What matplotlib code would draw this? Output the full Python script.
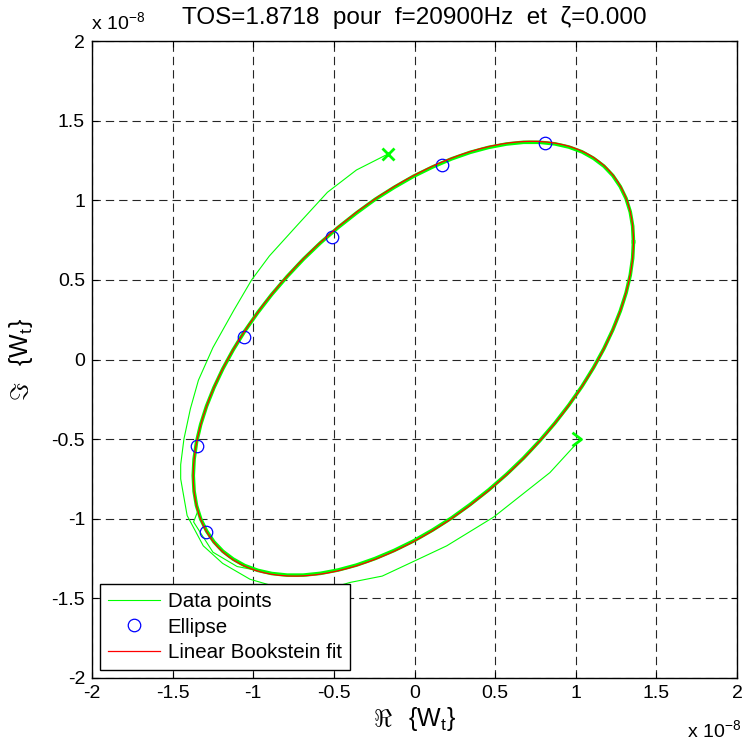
import numpy as np
import matplotlib
matplotlib.use("Agg")
import matplotlib.pyplot as plt
from matplotlib.patches import Ellipse
from matplotlib.lines import Line2D
from matplotlib.path import Path

plt.rcParams['font.family'] = ['Liberation Sans', 'DejaVu Sans']
plt.rcParams['font.size'] = 14
plt.rcParams['axes.unicode_minus'] = False
plt.rcParams['mathtext.fontset'] = 'custom'
plt.rcParams['mathtext.rm'] = 'Liberation Sans'
plt.rcParams['mathtext.it'] = 'Liberation Sans'
plt.rcParams['mathtext.bf'] = 'Liberation Sans:bold'
plt.rcParams['lines.scale_dashes'] = False

# Values in units of 1e-8
SCALE_EXP = -8

# Outer spiral of the measured response (start -> end)
spiral_re = [-0.165, -0.36, -0.54, -0.73, -0.90, -1.01, -1.12, -1.25, -1.34, -1.39,
             -1.43, -1.45, -1.45, -1.41, -1.31, -1.19, -1.02, -0.85, -0.65, -0.50,
             -0.40, -0.20, -0.01, 0.20, 0.49, 0.84, 1.03]
spiral_im = [1.29, 1.19, 1.05, 0.84, 0.65, 0.50, 0.31, 0.075, -0.13, -0.31,
             -0.50, -0.66, -0.75, -0.98, -1.17, -1.28, -1.38, -1.43, -1.45, -1.43,
             -1.40, -1.36, -1.27, -1.17, -0.99, -0.71, -0.50]

# Small detour of one pass at the lower left
branch_re = [-1.343, -1.37, -1.25, -1.10, -0.92]
branch_im = [-0.95, -1.02, -1.21, -1.30, -1.335]

# Repeated passes around the resonance loop
loop_re = [1.358, 1.353, 1.338, 1.312, 1.276, 1.230, 1.175, 1.111, 1.039, 0.958,
           0.871, 0.776, 0.676, 0.570, 0.460, 0.346, 0.230, 0.112, -0.007, -0.126,
           -0.245, -0.360, -0.474, -0.584, -0.690, -0.790, -0.885, -0.972, -1.053, -1.125,
           -1.189, -1.244, -1.290, -1.326, -1.352, -1.367, -1.372, -1.367, -1.352, -1.326,
           -1.290, -1.244, -1.189, -1.125, -1.053, -0.972, -0.885, -0.790, -0.690, -0.584,
           -0.474, -0.360, -0.245, -0.126, -0.007, 0.112, 0.230, 0.346, 0.460, 0.570,
           0.676, 0.776, 0.871, 0.958, 1.039, 1.111, 1.175, 1.230, 1.276, 1.312,
           1.338, 1.353, 1.358]
loop_im = [0.739, 0.837, 0.927, 1.011, 1.086, 1.155, 1.214, 1.263, 1.304, 1.334,
           1.354, 1.364, 1.364, 1.353, 1.332, 1.301, 1.260, 1.209, 1.150, 1.081,
           1.005, 0.920, 0.829, 0.732, 0.629, 0.521, 0.409, 0.295, 0.178, 0.060,
           -0.059, -0.177, -0.294, -0.408, -0.520, -0.627, -0.729, -0.827, -0.917, -1.001,
           -1.076, -1.145, -1.204, -1.253, -1.294, -1.324, -1.344, -1.354, -1.354, -1.343,
           -1.322, -1.291, -1.250, -1.199, -1.140, -1.071, -0.995, -0.910, -0.819, -0.722,
           -0.619, -0.511, -0.399, -0.285, -0.168, -0.050, 0.069, 0.187, 0.304, 0.418,
           0.530, 0.637, 0.739]

# Points used for the ellipse fit
pts_re = [0.81, 0.17, -0.51, -1.06, -1.351, -1.295]
pts_im = [1.36, 1.22, 0.77, 0.14, -0.544, -1.084]

# Linear Bookstein fit: centre, semi-axes, orientation (deg)
fit_center = (-0.007, 0.005)
fit_semi_axes = (1.694, 0.926)
fit_angle = 45.0

ticks = [-2, -1.5, -1, -0.5, 0, 0.5, 1, 1.5, 2]
tick_labels = ['-2', '-1.5', '-1', '-0.5', '0', '0.5', '1', '1.5', '2']
title = 'TOS=1.8718  pour  f=20900Hz  et  \u03b6=0.000'

W, H = 744, 747
fig = plt.figure(figsize=(W / 100, H / 100), dpi=100)
ax = fig.add_axes([92 / W, (H - 678) / H, (737 - 92) / W, (678 - 41) / H])

green = '#00ff00'
data_re = spiral_re + [np.nan] + branch_re
data_im = spiral_im + [np.nan] + branch_im
h_data, = ax.plot(data_re, data_im, color=green, lw=0.8, label='Data points', zorder=3)
ax.plot(loop_re, loop_im, color=green, lw=2.6, zorder=3, solid_joinstyle='round')

# start / end markers
ax.plot(spiral_re[0], spiral_im[0], marker='x', color=green, ms=9, mew=2.0, zorder=4)
chevron = Path([(-1, 0.75), (0, 0), (-1, -0.75)],
               [Path.MOVETO, Path.LINETO, Path.LINETO])
ax.plot(spiral_re[-1], spiral_im[-1], marker=chevron, color=green, ms=13,
        mfc='none', mew=2.0, zorder=4)

h_pts, = ax.plot(pts_re, pts_im, 'o', ls='none', mfc='none', mec='#0000ff',
                 ms=9, mew=0.9, label='Ellipse', zorder=5)

fit = Ellipse(fit_center, 2 * fit_semi_axes[0], 2 * fit_semi_axes[1], angle=fit_angle,
              fill=False, edgecolor='#ff0000', lw=0.9, zorder=6)
ax.add_patch(fit)
h_fit = Line2D([], [], color='#ff0000', lw=0.9, label='Linear Bookstein fit')

ax.set_xlim(-2, 2)
ax.set_ylim(-2, 2)
ax.set_xticks(ticks)
ax.set_xticklabels(tick_labels)
ax.set_yticks(ticks)
ax.set_yticklabels(tick_labels)
ax.tick_params(direction='in', length=4, width=0.8, top=True, right=True,
               labelsize=14, pad=5, colors='black')
for s in ax.spines.values():
    s.set_linewidth(1.0)
    s.set_color('black')
ax.grid(True, color='0.15', lw=0.8, dashes=(6, 3.6))
ax.set_axisbelow(True)

ax.set_title(title, fontsize=17.5, pad=12)
ax.set_xlabel(r'$\Re\;\;\;\{\mathrm{W_t}\}$', fontsize=18)
ax.set_ylabel(r'$\Im\;\;\;\{\mathrm{W_t}\}$', fontsize=18)
ax.xaxis.set_label_coords(0.5, -0.042)
ax.xaxis.label.set_va('top')
ax.yaxis.set_label_coords(-0.089, 0.5)

fig.text(91 / W, 1 - 29 / H, r'x 10$^{%d}$' % SCALE_EXP, fontsize=14, va='baseline', ha='left')
fig.text(741 / W, 1 - 737 / H, r'x 10$^{%d}$' % SCALE_EXP, fontsize=14, va='baseline', ha='right')

leg = ax.legend(handles=[h_data, h_pts, h_fit], loc='lower left',
                bbox_to_anchor=(8 / 645, 8 / 637), borderaxespad=0,
                fontsize=14.8, frameon=True, fancybox=False, framealpha=1,
                edgecolor='black', handlelength=2.5, handletextpad=0.4,
                labelspacing=0.3, borderpad=0.4)
leg.get_frame().set_linewidth(1.0)

fig.savefig('out.png', dpi=100)
